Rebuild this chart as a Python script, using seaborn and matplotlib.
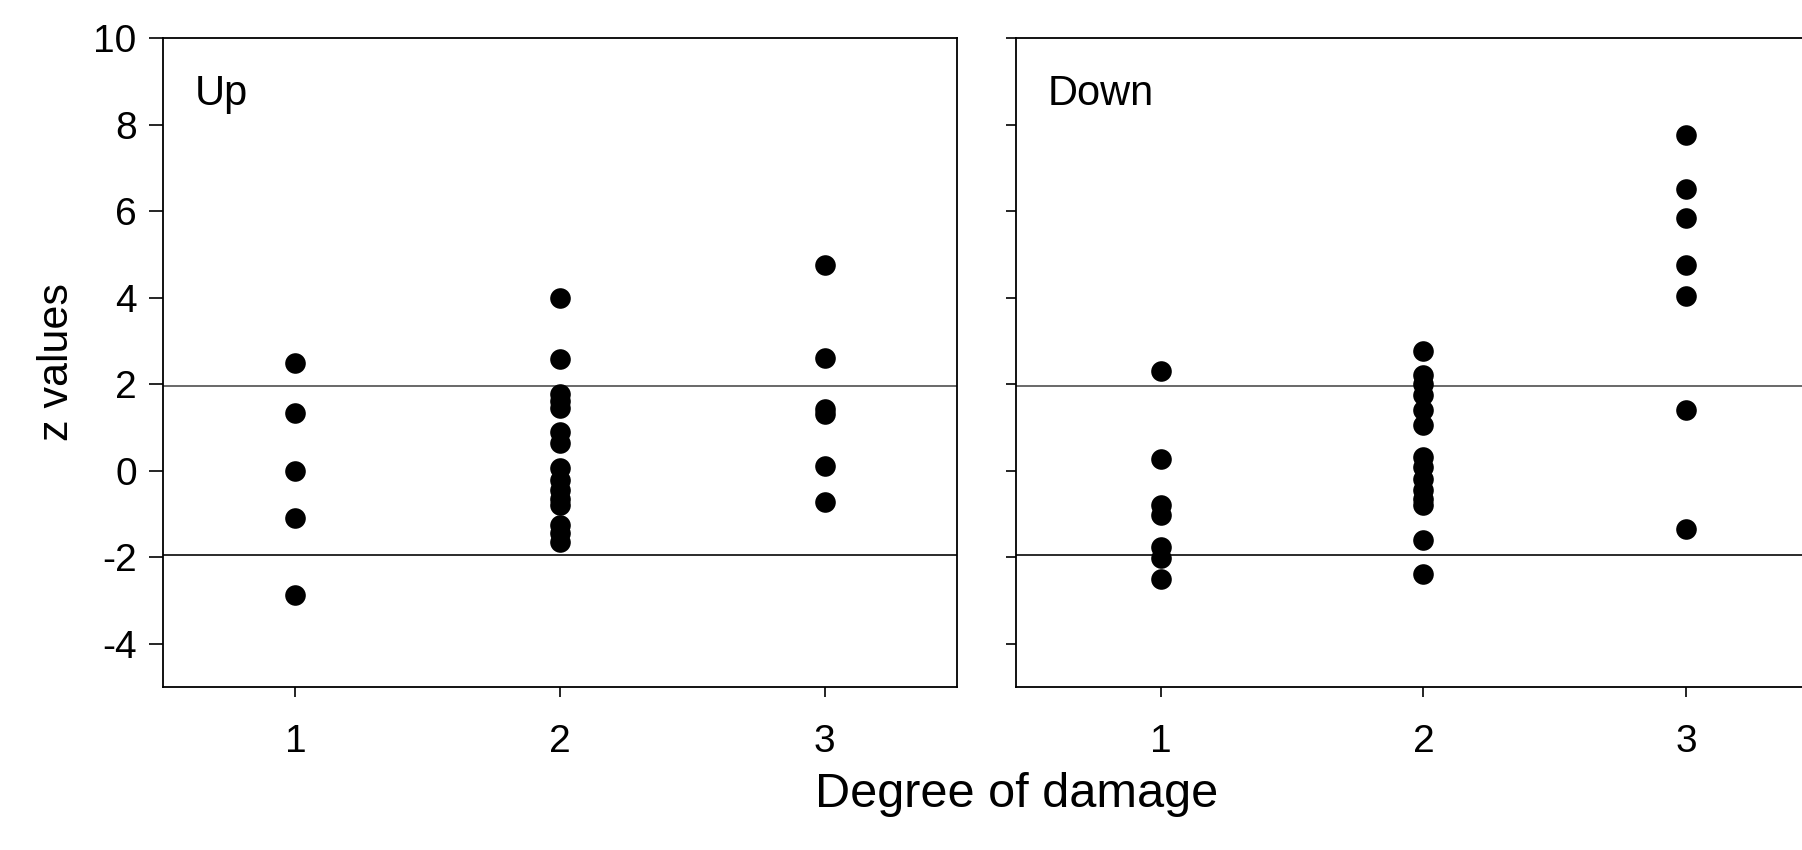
import matplotlib
matplotlib.use("Agg")
import matplotlib.pyplot as plt
import numpy as np
import pandas as pd
import seaborn as sns

sns.set_style("white")
plt.rcParams['font.family'] = ['Liberation Sans', 'DejaVu Sans']
plt.rcParams['axes.linewidth'] = 1.3
plt.rcParams['axes.unicode_minus'] = False
for key in ['text.color', 'axes.labelcolor', 'xtick.color', 'ytick.color']:
    plt.rcParams[key] = 'black'

# z values, per degree of damage
UP_1 = [2.48, 1.33, 0.0, -1.1, -2.88]
UP_2 = [4.0, 2.57, 1.78, 1.6, 1.45, 0.9, 0.65, 0.05, -0.22, -0.45, -0.65,
        -0.8, -1.25, -1.45, -1.65]
UP_3 = [4.76, 2.6, 1.42, 1.3, 0.1, -0.72]

DOWN_1 = [2.3, 0.27, -0.8, -1.03, -1.76, -2.03, -2.5]
DOWN_2 = [2.76, 2.22, 2.0, 1.75, 1.4, 1.05, 0.32, 0.08, -0.2, -0.45, -0.65,
          -0.8, -1.6, -2.38]
DOWN_3 = [7.75, 6.51, 5.85, 4.76, 4.04, 1.41, -1.34]

PANELS = ["Up", "Down"]
DEGREES = [1, 2, 3]
CRIT = 1.96


def make_frame(groups):
    rows = []
    for deg, vals in zip(DEGREES, groups):
        rows += [(deg, v) for v in vals]
    return pd.DataFrame(rows, columns=["degree", "z"])


frames = [make_frame([UP_1, UP_2, UP_3]), make_frame([DOWN_1, DOWN_2, DOWN_3])]

fig = plt.figure(figsize=(18.02, 8.5), dpi=100)
ax1 = fig.add_axes([0.0905, 0.1918, 0.4406, 0.7635])
ax2 = fig.add_axes([0.5638, 0.1918, 0.445, 0.7635])

for ax, df, name, xlo in zip([ax1, ax2], frames, PANELS, [0.5, 0.45]):
    sns.scatterplot(data=df, x="degree", y="z", ax=ax, color="black",
                    s=220, edgecolor="black", linewidth=0, zorder=3)
    ax.axhline(CRIT, color="0.25", lw=1.1, zorder=1)
    ax.axhline(-CRIT, color="0.1", lw=1.3, zorder=1)
    ax.set_xlim(xlo, 3.5)
    ax.set_ylim(-5, 10)
    ax.set_xticks(DEGREES)
    ax.set_yticks(np.arange(-4, 11, 2))
    ax.set_xlabel("")
    ax.set_ylabel("")
    ax.text(0.04, 0.945, name, transform=ax.transAxes, fontsize=30,
            va="top", ha="left")
    ax.tick_params(axis="x", direction="out", length=7, width=1.2,
                   labelsize=28, pad=20, bottom=True)
    for s in ax.spines.values():
        s.set_color("black")

ax1.tick_params(axis="y", direction="out", length=10, width=1.2,
                labelsize=28, pad=9, left=True)
ax2.tick_params(axis="y", direction="out", length=7, width=1.2,
                labelleft=False, left=True)
ax1.set_ylabel("z values", fontsize=31, labelpad=12)

fig.text(0.564, 0.065, "Degree of damage", ha="center", va="center",
         fontsize=35)

fig.savefig("out.png", dpi=100)
